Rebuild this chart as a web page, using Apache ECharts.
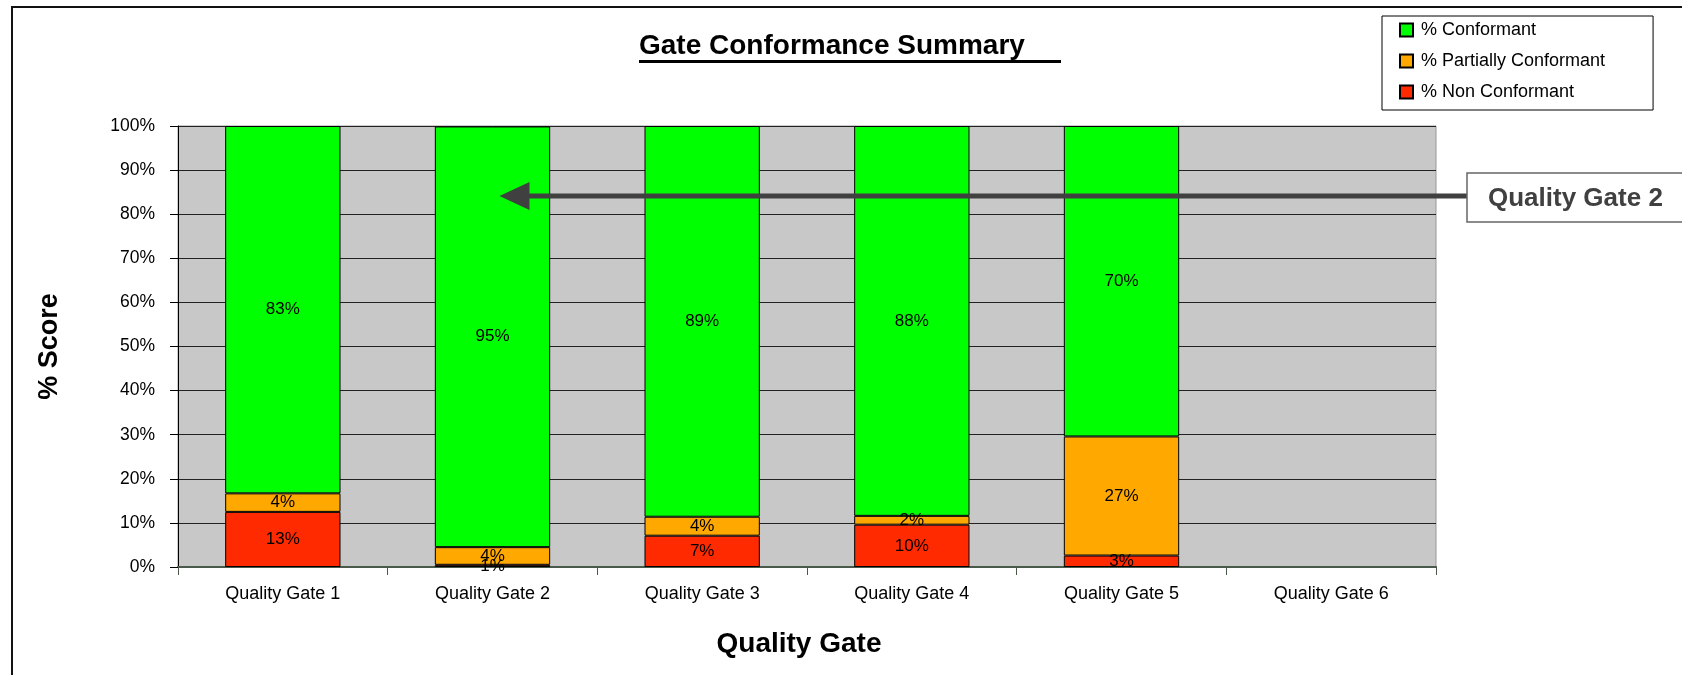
<!DOCTYPE html>
<html>
<head>
<meta charset="utf-8">
<script src="https://cdn.jsdelivr.net/npm/echarts@6/dist/echarts.min.js"></script>
<style>
html,body{margin:0;padding:0;background:#fff;}
#chart{width:1682px;height:675px;}
</style>
</head>
<body>
<div id="chart"></div>
<script>
const categories = ['Quality Gate 1','Quality Gate 2','Quality Gate 3','Quality Gate 4','Quality Gate 5','Quality Gate 6'];
const nonConformant = [12.5, 0.5, 7.1, 9.6, 2.6, null];
const partiallyConformant = [4.2, 4.0, 4.3, 2.0, 27.0, null];
const conformant = [83.3, 95.4, 88.6, 88.4, 70.4, null];
const yTicks = [0,10,20,30,40,50,60,70,80,90,100];
const annotationCategory = 'Quality Gate 2';
const annotationValue = 84.1;
const annotationText = 'Quality Gate 2';

const FONT = '"Liberation Sans", Arial, sans-serif';
const chart = echarts.init(document.getElementById('chart'), null, {renderer:'canvas'});

const labelCfg = {
  show: true, position: 'inside', color: '#000', fontFamily: FONT, fontSize: 17,
  formatter: p => (p.value == null ? '' : Math.round(p.value) + '%')
};
function mkSeries(name, data, color) {
  return {
    name, type: 'bar', stack: 'total', data,
    barCategoryGap: '45%',
    itemStyle: {color, borderColor: '#000', borderWidth: 1},
    label: labelCfg,
    emphasis: {disabled: true}
  };
}

chart.setOption({
  animation: false,
  backgroundColor: '#fff',
  title: {
    text: 'Gate Conformance Summary', left: 639, top: 32, padding: 0,
    textStyle: {fontFamily: FONT, fontSize: 28, fontWeight: 'bold', color: '#000'}
  },
  legend: {
    orient: 'vertical', left: 1382, top: 16,
    data: ['% Conformant', '% Partially Conformant', '% Non Conformant'],
    backgroundColor: '#fff', borderColor: '#000', borderWidth: 1,
    padding: [5, 48, 9, 17], itemGap: 13, itemWidth: 13, itemHeight: 13,
    icon: 'rect',
    textStyle: {fontFamily: FONT, fontSize: 18, color: '#000', padding: [0, 0, 0, 3]}
  },
  grid: {
    left: 178, right: 246, top: 126, bottom: 108,
    show: true, backgroundColor: '#C8C8C8', borderColor: '#999', borderWidth: 1
  },
  xAxis: {
    type: 'category', data: categories,
    name: 'Quality Gate', nameLocation: 'middle', nameGap: 63,
    nameTextStyle: {fontFamily: FONT, fontSize: 28, fontWeight: 'bold', color: '#000', padding: [0, 16, 0, 0]},
    axisLine: {lineStyle: {color: '#4a5a4a', width: 2}},
    axisTick: {show: true, length: 8, lineStyle: {color: '#4a5a4a'}},
    axisLabel: {fontFamily: FONT, fontSize: 18, color: '#000', margin: 18}
  },
  yAxis: {
    type: 'value', min: 0, max: 100, interval: 10,
    name: '% Score', nameLocation: 'middle', nameGap: 115,
    nameTextStyle: {fontFamily: FONT, fontSize: 27, fontWeight: 'bold', color: '#000'},
    axisLine: {show: true, lineStyle: {color: '#000', width: 1}},
    axisTick: {show: true, length: 8, lineStyle: {color: '#000'}},
    axisLabel: {
      fontFamily: FONT, fontSize: 17.5, color: '#000', margin: 23,
      formatter: v => (yTicks.indexOf(v) >= 0 ? v + '%' : '')
    },
    splitLine: {show: true, lineStyle: {color: '#222', width: 1}}
  },
  series: [
    mkSeries('% Non Conformant', nonConformant, '#FF2A00'),
    mkSeries('% Partially Conformant', partiallyConformant, '#FFA800'),
    mkSeries('% Conformant', conformant, '#00FF00')
  ]
});

const p = chart.convertToPixel({gridIndex: 0}, [annotationCategory, annotationValue]);
const tip = [p[0] + 7, p[1]];
const boxX = 1467, boxH = 49, boxTop = tip[1] - 23;
chart.setOption({
  graphic: [
    {type: 'polyline', silent: true, z: 100,
     shape: {points: [[12, 700], [12, 7], [1700, 7]]},
     style: {stroke: '#111', lineWidth: 2, fill: null}},
    {type: 'line', silent: true, z: 100,
     shape: {x1: 639, y1: 61.5, x2: 1061, y2: 61.5},
     style: {stroke: '#000', lineWidth: 3}},
    {type: 'line', silent: true, z: 100,
     shape: {x1: tip[0] + 26, y1: tip[1], x2: boxX, y2: tip[1]},
     style: {stroke: '#404040', lineWidth: 5}},
    {type: 'polygon', silent: true, z: 100,
     shape: {points: [[tip[0], tip[1]], [tip[0] + 30, tip[1] - 14], [tip[0] + 30, tip[1] + 14]]},
     style: {fill: '#404040'}},
    {type: 'rect', silent: true, z: 100,
     shape: {x: boxX, y: boxTop, width: 260, height: boxH},
     style: {fill: '#fff', stroke: '#666', lineWidth: 1.5}},
    {type: 'text', silent: true, z: 101,
     style: {x: 1488, y: boxTop + boxH / 2 + 1, text: annotationText, fill: '#404040',
             font: 'bold 26px ' + FONT, textVerticalAlign: 'middle', textAlign: 'left'}}
  ]
});
</script>
</body>
</html>
